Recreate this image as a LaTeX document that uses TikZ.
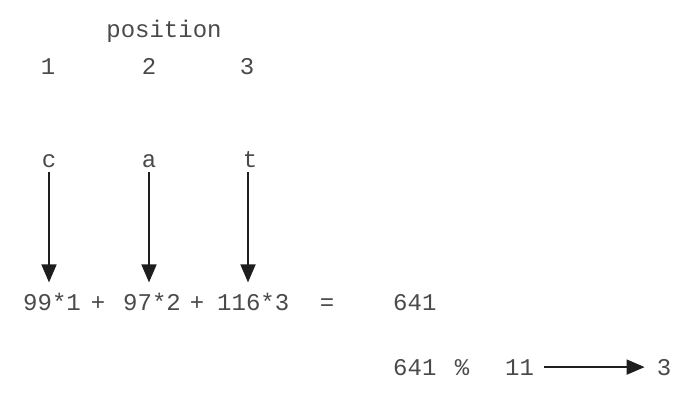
\documentclass[tikz,border=0pt]{standalone}
\usepackage{fontspec}
\setmonofont{Liberation Mono}
\usetikzlibrary{arrows.meta}
\definecolor{txt}{HTML}{4A4A4A}
\definecolor{arr}{HTML}{1E1E1E}
\tikzset{
  lbl/.style={inner sep=0pt, anchor=base, text=txt, font=\fontsize{24}{28}\ttfamily},
  lblw/.style={lbl, anchor=base west},
  darr/.style={draw=arr, line width=1.8pt, -{Triangle[length=18pt,width=15pt]}}
}
\begin{document}
\begin{tikzpicture}[x=1pt,y=-1pt]
\useasboundingbox (0,0) rectangle (700,414);
\node[lbl] (pos) at (164,38) {position};
\node[lbl] (p1) at (48,75) {1};
\node[lbl] (p2) at (149,75) {2};
\node[lbl] (p3) at (247,75) {3};
\node[lbl] (c) at (49,167) {c};
\node[lbl] (a) at (149,167) {a};
\node[lbl] (t) at (250,167) {t};
\node[lblw] (e1) at (23,310) {99*1};
\node[lbl] (plus1) at (98,310) {+};
\node[lblw] (e2) at (123,310) {97*2};
\node[lbl] (plus2) at (197,310) {+};
\node[lblw] (e3) at (217,310) {116*3};
\node[lbl] (eq) at (327,310) {=};
\node[lblw] (r1) at (393,310) {641};
\node[lblw] (m1) at (393,375) {641};
\node[lbl] (pct) at (462,375) {\%};
\node[lblw] (m11) at (505,375) {11};
\node[lbl] (res) at (664,375) {3};
\draw[darr, shorten <=5pt, shorten >=10pt] (c.south) -- (c.south |- e1.north);
\draw[darr, shorten <=5pt, shorten >=10pt] (a.south) -- (a.south |- e2.north);
\draw[darr, shorten <=5pt, shorten >=10pt] ([xshift=-2pt]t.south) -- ([xshift=-2pt]t.south |- e3.north);
\draw[darr, shorten <=10pt, shorten >=12pt] (m11.east) -- (res.west);
\end{tikzpicture}
\end{document}
